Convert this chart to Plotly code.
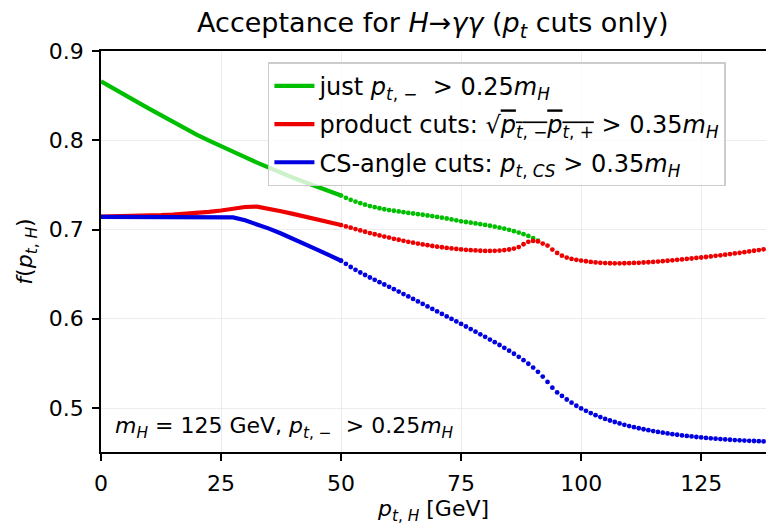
import plotly.graph_objects as go

# p_t,H sampling: fine region (drawn as a continuous band) and the 1 GeV grid above 50 GeV
pt_fine = [0, 2.5, 5, 7.5, 10, 12.5, 15, 17.5, 20, 22.5, 25, 27.5, 30, 32.5, 35, 37.5, 40, 42.5, 45, 47.5, 50]
pt_grid = list(range(50, 139))

# just p_t,- > 0.25 m_H
just_fine = [0.866, 0.858, 0.850, 0.843, 0.8355, 0.828, 0.8205, 0.813, 0.806, 0.7995, 0.793,
             0.787, 0.781, 0.775, 0.769, 0.7635, 0.758, 0.753, 0.748, 0.743, 0.738]
just_grid = [0.738, 0.7355, 0.7333, 0.7313, 0.7295, 0.7278, 0.7263, 0.725, 0.7238, 0.7227,
             0.7218, 0.721, 0.7202, 0.7194, 0.7186, 0.7179, 0.7172, 0.7165, 0.7157, 0.7149,
             0.7141, 0.7132, 0.7123, 0.7113, 0.7103, 0.7092, 0.7084, 0.7076, 0.7068, 0.706,
             0.7051, 0.7042, 0.7032, 0.7021, 0.7009, 0.6996, 0.6981, 0.6966, 0.6948, 0.6928,
             0.6904, 0.6876]

# product cuts: sqrt(p_t,- p_t,+) > 0.35 m_H
prod_fine = [0.7145, 0.7146, 0.7148, 0.7151, 0.7155, 0.716, 0.7166, 0.7174, 0.7184, 0.7197, 0.7213,
             0.7232, 0.7252, 0.7256, 0.7235, 0.7205, 0.7175, 0.7145, 0.7115, 0.7083, 0.705]
prod_grid = [0.705, 0.7035, 0.702, 0.7005, 0.699, 0.6975, 0.696, 0.6947, 0.6934, 0.6921,
             0.691, 0.6895, 0.6885, 0.6873, 0.6862, 0.6852, 0.6842, 0.6833, 0.6824, 0.6815,
             0.6808, 0.6801, 0.6794, 0.6788, 0.6782, 0.6777, 0.6772, 0.6768, 0.6765, 0.6762,
             0.676, 0.676, 0.6761, 0.6764, 0.6769, 0.6776, 0.6786, 0.6803, 0.6835, 0.6862,
             0.6872, 0.6866, 0.6842, 0.682, 0.6775, 0.6737, 0.6707, 0.6685, 0.667, 0.666,
             0.6652, 0.6644, 0.6637, 0.6631, 0.6627, 0.6624, 0.6622, 0.6621, 0.6621, 0.6622,
             0.6623, 0.6625, 0.6627, 0.663, 0.6633, 0.6637, 0.6641, 0.6645, 0.665, 0.6655,
             0.666, 0.6665, 0.667, 0.6675, 0.6681, 0.6686, 0.6692, 0.6698, 0.6705, 0.6711,
             0.6718, 0.6725, 0.6732, 0.6739, 0.6746, 0.6754, 0.6762, 0.677, 0.6778]

# CS-angle cuts: p_t,CS > 0.35 m_H
cs_fine = [0.7142, 0.7142, 0.7142, 0.7142, 0.7142, 0.7142, 0.7142, 0.7142, 0.7142, 0.7142, 0.7142,
           0.7135, 0.7103, 0.7062, 0.701, 0.6955, 0.6898, 0.6837, 0.6775, 0.6712, 0.665]
cs_grid = [0.665, 0.6615, 0.658, 0.6548, 0.6518, 0.649, 0.6462, 0.6436, 0.641, 0.6384,
           0.6358, 0.6331, 0.6304, 0.6277, 0.625, 0.6222, 0.6194, 0.6166, 0.6138, 0.611,
           0.6082, 0.6054, 0.6026, 0.5998, 0.597, 0.5942, 0.5913, 0.5884, 0.5855, 0.5826,
           0.5797, 0.5767, 0.5737, 0.5706, 0.5674, 0.5642, 0.5608, 0.5573, 0.5536, 0.5496,
           0.5453, 0.5405, 0.5352, 0.5292, 0.5228, 0.5175, 0.5135, 0.5095, 0.506, 0.5025,
           0.4995, 0.4968, 0.4943, 0.492, 0.4898, 0.4878, 0.486, 0.4843, 0.4827, 0.4812,
           0.4798, 0.4785, 0.4773, 0.4762, 0.4751, 0.4741, 0.4732, 0.4723, 0.4715, 0.4707,
           0.47, 0.4693, 0.4687, 0.4681, 0.4675, 0.467, 0.4665, 0.466, 0.4656, 0.4652,
           0.4648, 0.4644, 0.4641, 0.4638, 0.4635, 0.4632, 0.463, 0.4628, 0.4626]

x_ticks = [0, 25, 50, 75, 100, 125]
y_ticks = [0.5, 0.6, 0.7, 0.8, 0.9]

FONT = "DejaVu Sans"
series = [
    ("just <i>p</i><sub><i>t</i>, −</sub>  > 0.25<i>m</i><sub><i>H</i></sub>",
     "#00bf00", just_fine, just_grid),
    ("product cuts: √<span style='text-decoration:overline'><i>p</i><sub><i>t</i>, −</sub><i>p</i><sub><i>t</i>, +</sub></span> > 0.35<i>m</i><sub><i>H</i></sub>",
     "#ee0000", prod_fine, prod_grid),
    ("CS-angle cuts: <i>p</i><sub><i>t</i>, <i>CS</i></sub> > 0.35<i>m</i><sub><i>H</i></sub>",
     "#0000e0", cs_fine, cs_grid),
]

fig = go.Figure()
for i, (name, color, yf, yg) in enumerate(series):
    fig.add_trace(go.Scatter(
        x=pt_fine, y=yf, mode="lines", name=name, legendgroup=f"g{i}",
        line=dict(color=color, width=4.2), showlegend=True))
    fig.add_trace(go.Scatter(
        x=pt_grid[:len(yg)], y=yg, mode="markers", name=name, legendgroup=f"g{i}",
        marker=dict(color=color, size=4.8, line=dict(width=0)), showlegend=False))

axis_common = dict(
    showline=True, linecolor="black", linewidth=1.6,
    ticks="outside", ticklen=7, tickwidth=1.5, tickcolor="black",
    showgrid=True, gridcolor="#ececec", gridwidth=1.3,
    zeroline=False, tickfont=dict(family=FONT, size=22, color="black"),
)

fig.update_xaxes(range=[0, 138.5], tickvals=x_ticks, mirror=True, ticklabelstandoff=4,
                 title=dict(text="<i>p</i><sub><i>t</i>, <i>H</i></sub> [GeV]",
                            font=dict(family=FONT, size=22, color="black"), standoff=2),
                 **axis_common)
fig.update_yaxes(range=[0.4507, 0.9], tickvals=y_ticks, tickformat=".1f", ticklabelstandoff=4,
                 title=dict(text="<i>f</i>(<i>p</i><sub><i>t</i>, <i>H</i></sub>)",
                            font=dict(family=FONT, size=22, color="black"), standoff=10),
                 **axis_common)

fig.add_annotation(
    xref="paper", yref="paper", x=0.018, y=0.06, xanchor="left", yanchor="middle",
    text="<i>m</i><sub><i>H</i></sub> = 125 GeV, <i>p</i><sub><i>t</i>, −</sub>  > 0.25<i>m</i><sub><i>H</i></sub>",
    showarrow=False, font=dict(family=FONT, size=22, color="black"))

fig.update_layout(
    width=766, height=525,
    margin=dict(l=101, r=0, t=51, b=73),
    plot_bgcolor="white", paper_bgcolor="white",
    title=dict(text="Acceptance for <i>H</i>→<i>γγ</i> (<i>p</i><sub><i>t</i></sub> cuts only)",
               x=0.565, xanchor="center", y=0.957, yanchor="middle",
               font=dict(family=FONT, size=27, color="black")),
    legend=dict(x=0.251, y=0.972, xanchor="left", yanchor="top",
                bgcolor="rgba(255,255,255,0.8)", bordercolor="#cccccc", borderwidth=1.5,
                font=dict(family=FONT, size=24, color="black"),
                traceorder="grouped", tracegroupgap=4, itemwidth=40),
)

fig.write_html("out.html")
